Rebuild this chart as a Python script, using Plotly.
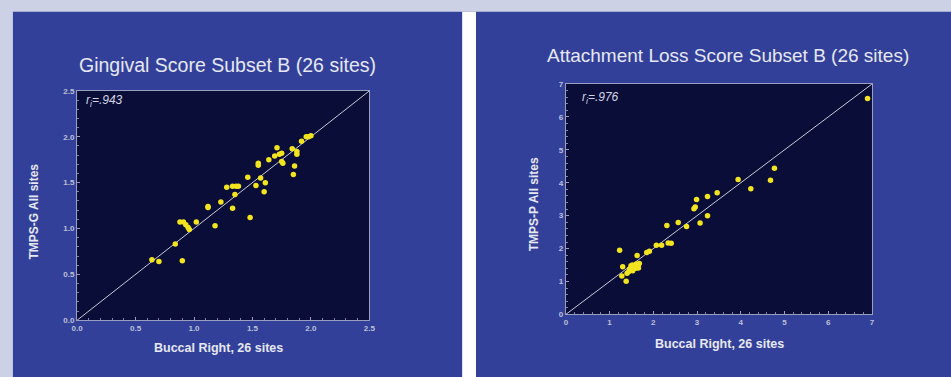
import plotly.graph_objects as go

W, H = 951, 377

# Left panel: Gingival score
ging_x = [0.64, 0.70, 0.90, 0.84, 0.88, 0.91, 0.93, 0.95, 0.96, 1.02, 1.18, 1.12, 1.12,
          1.23, 1.28, 1.33, 1.35, 1.33, 1.36, 1.38, 1.46, 1.48, 1.53, 1.57, 1.55, 1.55,
          1.61, 1.60, 1.64, 1.69, 1.71, 1.73, 1.75, 1.75, 1.76, 1.84, 1.86, 1.85, 1.88,
          1.88, 1.92, 1.96, 1.98, 2.00]
ging_y = [0.66, 0.64, 0.65, 0.83, 1.07, 1.07, 1.04, 1.01, 0.99, 1.07, 1.03, 1.23, 1.24,
          1.29, 1.45, 1.22, 1.37, 1.46, 1.46, 1.46, 1.56, 1.12, 1.47, 1.55, 1.71, 1.69,
          1.50, 1.40, 1.75, 1.79, 1.88, 1.81, 1.82, 1.73, 1.71, 1.87, 1.68, 1.59, 1.84,
          1.81, 1.95, 2.00, 2.00, 2.01]

# Right panel: Attachment loss score
att_x = [1.23, 1.30, 1.28, 1.38, 1.40, 1.46, 1.49, 1.53, 1.57, 1.61, 1.63, 1.66, 1.68,
         1.44, 1.52, 1.60, 1.65, 1.85, 1.91, 2.07, 2.19, 2.31, 2.34, 2.41, 2.57, 2.76,
         2.93, 2.96, 2.99, 3.07, 3.24, 3.24, 3.46, 3.94, 4.23, 4.68, 4.77, 6.90]
att_y = [1.95, 1.45, 1.17, 1.01, 1.25, 1.38, 1.48, 1.33, 1.45, 1.53, 1.79, 1.41, 1.55,
         1.30, 1.50, 1.40, 1.48, 1.88, 1.92, 2.10, 2.10, 2.70, 2.17, 2.16, 2.79, 2.67,
         3.21, 3.26, 3.49, 2.78, 3.00, 3.58, 3.70, 4.10, 3.82, 4.08, 4.44, 6.56]

titles = ["Gingival Score Subset B (26 sites)", "Attachment Loss Score Subset B (26 sites)"]
xtitle = "Buccal Right, 26 sites"
ytitles = ["TMPS-G All sites", "TMPS-P All sites"]
r_labels = ["<i>r<sub>i</sub>=.943</i>", "<i>r<sub>i</sub>=.976</i>"]
ranges = [2.5, 7]
gtick = [0.5, 1]

LAV = "#cdd1e6"
BLUE = "#33409a"
PLOT = "#0a0d38"
YEL = "#f2e41e"
TXT = "#e6e8f2"
TICK = "#bcc0d6"
FONT = "Liberation Sans, Arial, sans-serif"

def px(x):
    return x / W

def py(y):
    return 1 - y / H

# plot-area pixel boxes (left, top, right, bottom)
boxes = [(72, 89, 368, 324), (567, 82, 877, 318)]

fig = go.Figure()
shapes = [
    dict(type="rect", xref="paper", yref="paper", x0=-0.05, x1=1.05, y0=py(8), y1=1.05,
         fillcolor=LAV, line_width=0, layer="below"),
    dict(type="rect", xref="paper", yref="paper", x0=-0.05, x1=px(7), y0=-0.05, y1=1.05,
         fillcolor=LAV, line_width=0, layer="below"),
    dict(type="rect", xref="paper", yref="paper", x0=px(462), x1=px(476), y0=-0.05, y1=py(8),
         fillcolor="#ffffff", line_width=0, layer="below"),
]
annotations = []
datasets = [(ging_x, ging_y), (att_x, att_y)]

for i, (xs, ys) in enumerate(datasets):
    sfx = "" if i == 0 else "2"
    xa, ya = "x" + sfx, "y" + sfx
    l, t, r, b = boxes[i]
    R = ranges[i]
    fig.add_trace(go.Scatter(x=[0, R], y=[0, R], mode="lines",
                             line=dict(color="#c8cad4", width=1),
                             xaxis=xa, yaxis=ya, showlegend=False, hoverinfo="skip"))
    fig.add_trace(go.Scatter(x=xs, y=ys, mode="markers",
                             marker=dict(color=YEL, size=5.5, line_width=0),
                             xaxis=xa, yaxis=ya, showlegend=False))
    axcommon = dict(range=[0, R], dtick=gtick[i], showgrid=False, zeroline=False,
                    showline=True, linecolor="#9aa0c2", linewidth=1, mirror=True,
                    ticks="inside", ticklen=3, tickcolor="#9aa0c2",
                    minor=dict(ticks="inside", ticklen=2, tickcolor="#7c84aa", nticks=5),
                    tickfont=dict(family=FONT, size=8, color=TICK, weight="bold"),
                    fixedrange=True)
    if i == 0:
        axcommon["tickformat"] = ".1f"
    fig.update_layout(**{
        ("xaxis" + sfx): dict(axcommon, domain=[px(l), px(r)], anchor=ya),
        ("yaxis" + sfx): dict(axcommon, domain=[py(b), py(t)], anchor=xa),
    })
    shapes.append(dict(type="rect", xref=xa + " domain", yref=ya + " domain",
                       x0=0, x1=1, y0=0, y1=1, fillcolor=PLOT, line_width=0, layer="below"))
    # title
    tcx = [224, 731][i]
    tcy = [62, 53][i]
    annotations.append(dict(text=titles[i], xref="paper", yref="paper", x=px(tcx), y=py(tcy),
                            showarrow=False, xanchor="center", yanchor="middle",
                            font=dict(family=FONT, size=[19.5, 19][i], color=TXT)))
    # x title
    annotations.append(dict(text=xtitle, xref="paper", yref="paper",
                            x=px([215, 723][i]), y=py([352, 348][i]),
                            showarrow=False, xanchor="center", yanchor="middle",
                            font=dict(family=FONT, size=12.5, color=TXT, weight="bold")))
    # y title
    annotations.append(dict(text=ytitles[i], xref="paper", yref="paper",
                            x=px([28, 535][i]), y=py([213, 205][i]), textangle=-90,
                            showarrow=False, xanchor="center", yanchor="middle",
                            font=dict(family=FONT, size=12, color=TXT, weight="bold")))
    # r label
    annotations.append(dict(text=r_labels[i], xref=xa + " domain", yref=ya + " domain",
                            x=[0.025, 0.045][i], y=[0.955, 0.94][i], showarrow=False,
                            xanchor="left", yanchor="middle",
                            font=dict(family=FONT, size=12, color="#d4d6e4")))

fig.update_layout(width=W, height=H, autosize=False,
                  margin=dict(l=0, r=0, t=0, b=0),
                  paper_bgcolor=BLUE, plot_bgcolor="rgba(0,0,0,0)",
                  shapes=shapes, annotations=annotations, showlegend=False)

fig.write_html("out.html", config={"displayModeBar": False})
